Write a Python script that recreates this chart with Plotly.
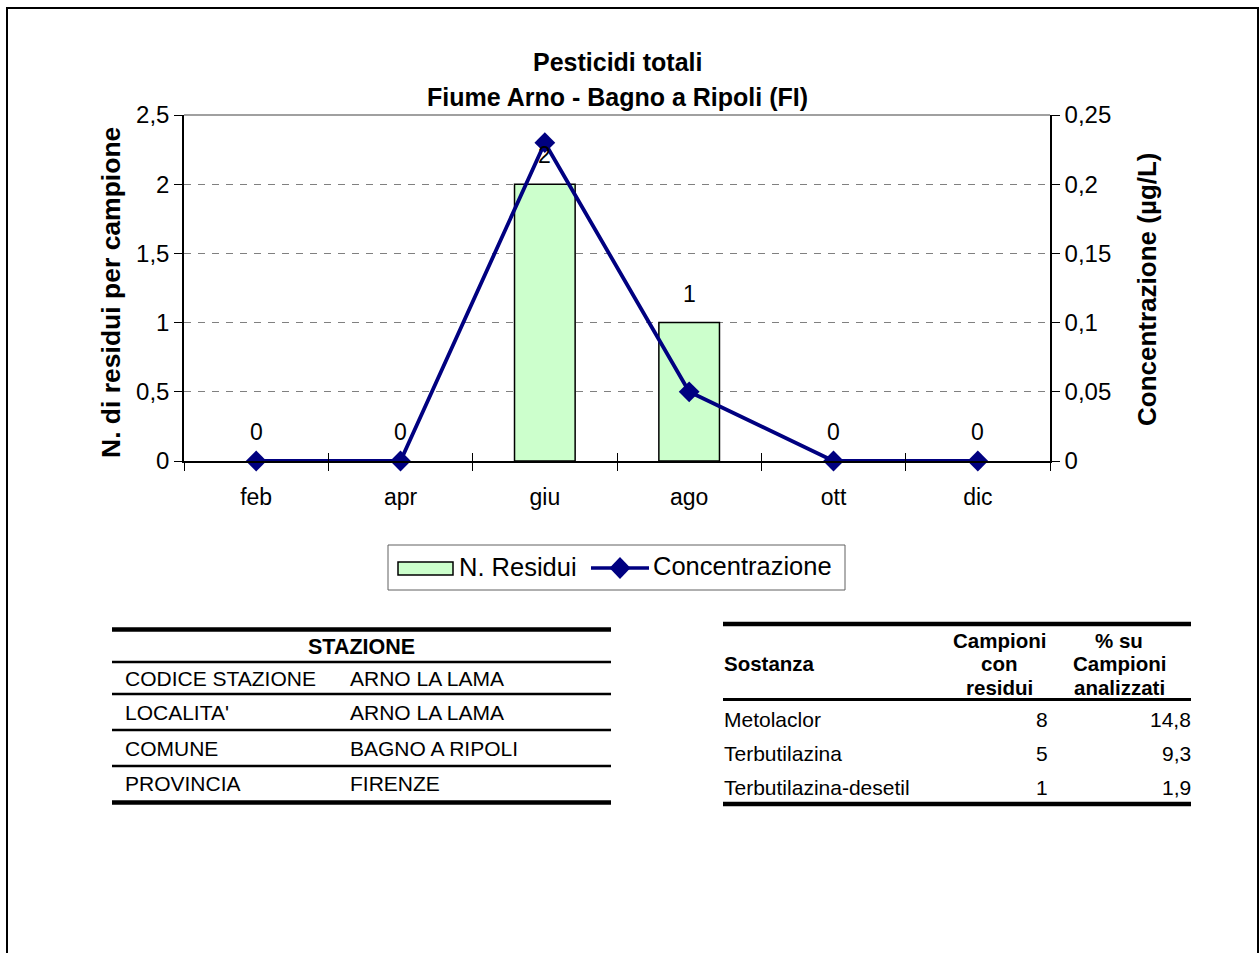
import plotly.graph_objects as go

# ---------------- data ----------------
months = ["feb", "apr", "giu", "ago", "ott", "dic"]
n_residui = [0, 0, 2, 1, 0, 0]
concentrazione = [0, 0, 0.23, 0.05, 0, 0]

y_left_ticks = [0, 0.5, 1, 1.5, 2, 2.5]
y_left_labels = ["0", "0,5", "1", "1,5", "2", "2,5"]
y_right_ticks = [0, 0.05, 0.1, 0.15, 0.2, 0.25]
y_right_labels = ["0", "0,05", "0,1", "0,15", "0,2", "0,25"]

title_lines = ["Pesticidi totali", "Fiume Arno - Bagno a Ripoli (FI)"]
y_left_title = "N. di residui per campione"
y_right_title = "Concentrazione (µg/L)"
bar_name = "N. Residui"
line_name = "Concentrazione"

station_header = "STAZIONE"
station_labels = ["CODICE STAZIONE", "LOCALITA'", "COMUNE", "PROVINCIA"]
station_values = ["ARNO LA LAMA", "ARNO LA LAMA", "BAGNO A RIPOLI", "FIRENZE"]

subst_header = ["Sostanza", ["Campioni", "con", "residui"], ["% su", "Campioni", "analizzati"]]
subst_names = ["Metolaclor", "Terbutilazina", "Terbutilazina-desetil"]
subst_counts = [8, 5, 1]
subst_pct = [14.8, 9.3, 1.9]

# ---------------- colours / geometry ----------------
BAR_FILL = "#CCFFCC"
NAVY = "#000080"
W, H = 1259, 953
L, R, T, B = 184, 1050, 115, 461
FONT = "Liberation Sans, Arial, sans-serif"


def px(x):
    return (x - L) / (R - L)


def py(y):
    return (B - y) / (B - T)


fig = go.Figure()

fig.add_trace(go.Bar(
    x=months, y=n_residui, name=bar_name, width=0.42, showlegend=False,
    marker=dict(color=BAR_FILL, line=dict(color="black", width=[1.5 if v > 0 else 0 for v in n_residui])),
    yaxis="y",
))
fig.add_trace(go.Scatter(
    x=months, y=concentrazione, name=line_name, mode="lines+markers", showlegend=False,
    line=dict(color=NAVY, width=3.8),
    marker=dict(symbol="diamond", size=16, color=NAVY),
    yaxis="y2", cliponaxis=False,
))
# helper trace for the inner half of the crossing x ticks
fig.add_trace(go.Scatter(x=[], y=[], xaxis="x2", yaxis="y", showlegend=False, hoverinfo="skip"))

annotations = []
shapes = []


def text(x, y, s, anchor="left", bold=False, size=21, angle=0):
    annotations.append(dict(x=px(x), y=py(y), xref="paper", yref="paper",
                            text=("<b>%s</b>" % s) if bold else s, showarrow=False,
                            xanchor=anchor, yanchor="middle", borderpad=0, borderwidth=0,
                            textangle=angle,
                            font=dict(size=size, color="black", family=FONT)))


def hline(x0, x1, y, w, color="black"):
    shapes.append(dict(type="line", xref="paper", yref="paper", x0=px(x0), x1=px(x1), y0=py(y), y1=py(y),
                       line=dict(color=color, width=w)))


# bar value labels
for m, v in zip(months, n_residui):
    annotations.append(dict(x=m, y=v, xref="x", yref="y", text=str(v), showarrow=False,
                            yshift=29, font=dict(size=23, color="black", family=FONT)))

# titles
text(617, 62, title_lines[0], anchor="center", bold=True, size=25)
text(617, 97, title_lines[1], anchor="center", bold=True, size=25)
text(111, 293, y_left_title, anchor="center", bold=True, size=26.5, angle=-90)
text(1147, 289, y_right_title, anchor="center", bold=True, size=26, angle=-90)

# outer border
shapes.append(dict(type="rect", xref="paper", yref="paper", x0=px(7), x1=px(1258), y0=py(8), y1=py(975),
                   line=dict(color="black", width=2), layer="below"))
# plot area top border
shapes.append(dict(type="line", xref="paper", yref="paper", x0=0, x1=1, y0=1, y1=1,
                   line=dict(color="#808080", width=1.5)))

# ---- custom legend ----
shapes.append(dict(type="rect", xref="paper", yref="paper", x0=px(388), x1=px(845), y0=py(545), y1=py(590),
                   line=dict(color="#606060", width=1), fillcolor="white"))
shapes.append(dict(type="rect", xref="paper", yref="paper", x0=px(398), x1=px(453), y0=py(562), y1=py(575),
                   line=dict(color="black", width=1.5), fillcolor=BAR_FILL))
text(459, 567, bar_name, size=25.5)
hline(591, 649, 568, 3.5, color=NAVY)
dx, dy = 10.5, 11
shapes.append(dict(type="path", xref="paper", yref="paper",
                   path="M %f %f L %f %f L %f %f L %f %f Z" % (
                       px(620 - dx), py(568), px(620), py(568 - dy), px(620 + dx), py(568), px(620), py(568 + dy)),
                   fillcolor=NAVY, line=dict(color=NAVY, width=0)))
text(653, 566, line_name, size=25.5)

# ---- left table (station) ----
tl0, tl1 = 112, 611
hline(tl0, tl1, 629.5, 4.5)
text((tl0 + tl1) / 2, 647, station_header, anchor="center", bold=True, size=21.5)
hline(tl0, tl1, 662, 2.5)
row_c = [678, 712, 748, 783]
row_lines = [694, 730, 766]
for i, (lab, val) in enumerate(zip(station_labels, station_values)):
    text(125, row_c[i], lab, size=21)
    text(350, row_c[i], val, size=21)
for yl in row_lines:
    hline(tl0, tl1, yl, 2.5)
hline(tl0, tl1, 802.5, 4.5)

# ---- right table (substances) ----
tr0, tr1 = 723, 1191
hline(tr0, tr1, 624, 4.5)
text(724, 663, subst_header[0], bold=True, size=20.5)
for j, ln in enumerate(subst_header[1]):
    text(999, 640 + 23.5 * j, ln, anchor="center", bold=True, size=20.5)
for j, ln in enumerate(subst_header[2]):
    text(1119, 640 + 23.5 * j, ln, anchor="center", bold=True, size=20.5)
hline(tr0, tr1, 699.5, 3)
srow = [719, 753, 787]
for i, (nm, c, p) in enumerate(zip(subst_names, subst_counts, subst_pct)):
    text(724, srow[i], nm, size=21)
    text(1048, srow[i], str(c), anchor="right", size=21)
    text(1191, srow[i], ("%.1f" % p).replace(".", ","), anchor="right", size=21)
hline(tr0, tr1, 804, 4.5)

fig.update_layout(
    width=W, height=H,
    margin=dict(l=L, r=W - R, t=T, b=H - B, autoexpand=False),
    paper_bgcolor="white", plot_bgcolor="white",
    font=dict(family=FONT, size=23, color="black"),
    showlegend=False,
    xaxis=dict(type="category", categoryorder="array", categoryarray=months, range=[-0.5, 5.5],
               showline=True, linecolor="black", linewidth=1.5,
               ticks="outside", tickson="boundaries", ticklen=8, tickcolor="black", tickwidth=1,
               ticklabelstandoff=15, tickfont=dict(size=23), showgrid=False, zeroline=False, fixedrange=True),
    xaxis2=dict(overlaying="x", anchor="y", range=[-0.5, 5.5], tickmode="array",
                tickvals=[-0.5, 0.5, 1.5, 2.5, 3.5, 4.5, 5.5], ticks="inside", ticklen=8,
                tickcolor="black", tickwidth=1, showticklabels=False, showline=False,
                showgrid=False, zeroline=False, side="bottom"),
    yaxis=dict(range=[0, 2.5], tickmode="array", tickvals=y_left_ticks, ticktext=y_left_labels,
               showline=True, linecolor="black", linewidth=1.5, ticks="outside", ticklen=8,
               tickcolor="black", tickfont=dict(size=24),
               showgrid=True, gridcolor="#808080", gridwidth=1, griddash="7px,7px",
               zeroline=False),
    yaxis2=dict(range=[0, 0.25], overlaying="y", side="right", anchor="x", tickmode="array",
                tickvals=y_right_ticks, ticktext=y_right_labels,
                showline=True, linecolor="black", linewidth=1.5, ticks="outside", ticklen=8,
                tickcolor="black", tickfont=dict(size=24), showgrid=False, zeroline=False),
    annotations=annotations,
    shapes=shapes,
)

fig.write_html("out.html", config={"displayModeBar": False},
               post_script="document.body.style.margin='0';")
